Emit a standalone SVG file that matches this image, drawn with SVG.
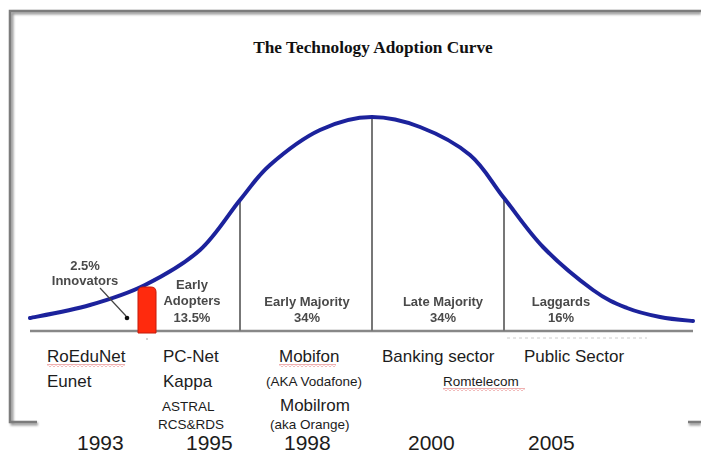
<svg xmlns="http://www.w3.org/2000/svg" width="701" height="454" viewBox="0 0 701 454">
  <defs>
    <style>
      .seg { font-family: "Liberation Sans", Arial, sans-serif; font-size: 13px; font-weight: bold; fill: #4a4a4a; text-anchor: middle; }
      .co { font-family: "Liberation Sans", Arial, sans-serif; font-size: 17px; fill: #1c1c1c; }
      .sm { font-size: 13.5px; }
      .yr { font-family: "Liberation Sans", Arial, sans-serif; font-size: 21px; fill: #1c1c1c; }
      .divider { stroke: #777; stroke-width: 2; }
      .frame { fill: none; stroke: #7c7c7c; stroke-width: 2.5; }
    </style>
    <filter id="soft" x="-5%" y="-5%" width="110%" height="110%">
      <feGaussianBlur stdDeviation="0.55"/>
    </filter>
    <filter id="shadow" x="-5%" y="-5%" width="110%" height="110%">
      <feGaussianBlur stdDeviation="1.2"/>
    </filter>
    <pattern id="squiggle" width="4" height="3" patternUnits="userSpaceOnUse">
      <path d="M0,2.5 L2,0.5 L4,2.5" fill="none" stroke="#d83a3a" stroke-width="0.8"/>
    </pattern>
  </defs>

  <rect width="701" height="454" fill="#fff"/>

  <!-- picture frame with drop shadow -->
  <g id="frame">
    <path d="M701,13 H12 V424 H38 M689,424 H701" fill="none" stroke="#999" stroke-width="3" filter="url(#shadow)"/>
    <path class="frame" d="M701,11 H10 V422 H37 M688,422 H701"/>
  </g>

  <g id="title">
    <text x="373" y="53" font-family="'Liberation Serif', 'Times New Roman', serif" font-size="17.3" font-weight="bold" fill="#111" text-anchor="middle">The Technology Adoption Curve</text>
  </g>

  <!-- adoption curve chart -->
  <g id="chart" filter="url(#soft)">
    <line x1="30" y1="331" x2="693" y2="331" stroke="#888" stroke-width="2.5"/>
    <line class="divider" x1="240" y1="200" x2="240" y2="331"/>
    <line class="divider" x1="372" y1="117" x2="372" y2="331"/>
    <line class="divider" x1="504" y1="198" x2="504" y2="331"/>
    <path id="curve" fill="none" stroke="#1b239c" stroke-width="4" stroke-linecap="round"
      d="M30,318 C40,316 70.8,310.5 90,305 C109.2,299.5 126.7,294.2 145,285 C163.3,275.8 184.2,264.2 200,250 C215.8,235.8 228.3,214.2 240,200 C251.7,185.8 256.7,176.7 270,165 C283.3,153.3 303,138 320,130 C337,122 355.3,117 372,117 C388.7,117 403.7,120.7 420,127 C436.3,133.3 456,143.2 470,155 C484,166.8 491.8,182.7 504,198 C516.2,213.3 528.2,231.7 543,247 C557.8,262.3 579,279.8 593,290 C607,300.2 615.8,303.5 627,308 C638.2,312.5 649,314.8 660,317 C671,319.2 682,320 693,321"/>
    <path id="marker-bar" d="M138,333 V292 Q138,287 143,287 H151 Q156,287 156,292 V333 Z" fill="#ff2a0c" stroke="#c41a08" stroke-width="1"/>
    <circle cx="147" cy="339" r="0.8" fill="#999"/>
    <line x1="507" y1="338" x2="647" y2="338" stroke="#ccc" stroke-width="1" stroke-dasharray="3 3"/>
  </g>

  <g id="connectors" filter="url(#soft)">
    <line x1="100" y1="288" x2="126" y2="316" stroke="#444" stroke-width="1.2"/>
    <circle cx="127" cy="318" r="2.3" fill="#111"/>
  </g>

  <g id="innovators" filter="url(#soft)">
    <text class="seg" x="85" y="270">2.5%</text>
    <text class="seg" x="85" y="285">Innovators</text>
  </g>
  <g id="early-adopters" filter="url(#soft)">
    <text class="seg" x="192" y="289">Early</text>
    <text class="seg" x="192" y="305">Adopters</text>
    <text class="seg" x="192" y="322">13.5%</text>
  </g>
  <g id="early-majority" filter="url(#soft)">
    <text class="seg" x="307" y="306">Early Majority</text>
    <text class="seg" x="307" y="322">34%</text>
  </g>
  <g id="late-majority" filter="url(#soft)">
    <text class="seg" x="443" y="306">Late Majority</text>
    <text class="seg" x="443" y="322">34%</text>
  </g>
  <g id="laggards" filter="url(#soft)">
    <text class="seg" x="561" y="306">Laggards</text>
    <text class="seg" x="561" y="322">16%</text>
  </g>

  <!-- companies by year -->
  <g id="col-1993">
    <text class="co" x="47" y="362">RoEduNet</text>
    <rect x="47" y="364" width="78" height="3" fill="url(#squiggle)"/>
    <text class="co" x="47" y="387">Eunet</text>
    <text class="yr" x="77" y="449.5">1993</text>
  </g>
  <g id="col-1995">
    <text class="co" x="163" y="362">PC-Net</text>
    <text class="co" x="163" y="387">Kappa</text>
    <text class="co sm" x="162" y="411" font-size="14.5">ASTRAL</text>
    <text class="co sm" x="158" y="429" font-size="14.5">RCS&amp;RDS</text>
    <text class="yr" x="186" y="449.5">1995</text>
  </g>
  <g id="col-1998">
    <text class="co" x="279" y="362">Mobifon</text>
    <rect x="279" y="364" width="57" height="3" fill="url(#squiggle)"/>
    <text class="co sm" x="266" y="386">(AKA Vodafone)</text>
    <text class="co" x="280" y="411" font-size="16">Mobilrom</text>
    <text class="co sm" x="270" y="429" font-size="12.5">(aka Orange)</text>
    <text class="yr" x="284" y="449.5">1998</text>
  </g>
  <g id="col-2000">
    <text class="co" x="382" y="362">Banking sector</text>
    <text class="co sm" x="443" y="386">Romtelecom</text>
    <rect x="443" y="388" width="82" height="3" fill="url(#squiggle)"/>
    <text class="yr" x="408" y="449.5">2000</text>
  </g>
  <g id="col-2005">
    <text class="co" x="524" y="362">Public Sector</text>
    <text class="yr" x="528" y="449.5">2005</text>
  </g>
</svg>
